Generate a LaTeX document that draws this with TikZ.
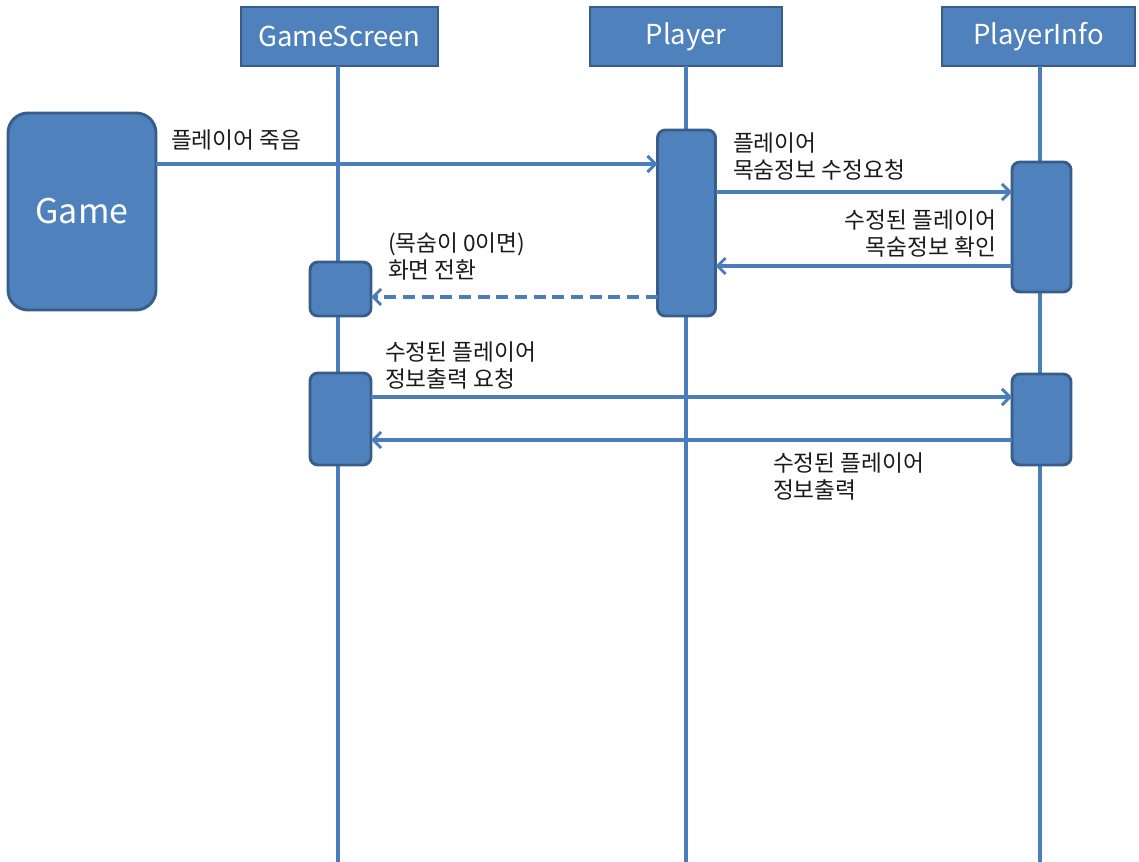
\documentclass[tikz,border=0pt]{standalone}
\usepackage{fontspec}
\newfontfamily\kr{Noto Sans CJK KR}
\usetikzlibrary{arrows.meta}
\definecolor{boxfill}{HTML}{4F81BD}
\definecolor{boxline}{HTML}{385D8A}
\definecolor{linec}{HTML}{4A7EBB}
\definecolor{txt}{HTML}{1A1A1A}
\tikzset{
  header/.style={draw=boxline, line width=2pt, fill=boxfill, inner sep=0pt, outer sep=0pt,
    minimum height=44.25pt, text=white, font=\kr\fontsize{20.6pt}{24pt}\selectfont},
  actbox/.style={draw=boxline, line width=2.2pt, fill=boxfill, rounded corners=6pt, inner sep=0pt, outer sep=0pt},
  lifeline/.style={draw=linec, line width=3pt},
  msg/.style={draw=linec, line width=2.4pt, -{Straight Barb[length=6pt, width=12pt, line width=2.2pt]}},
  lbl/.style={inner sep=0pt, outer sep=0pt, text=txt, font=\kr\fontsize{17pt}{20.25pt}\selectfont}
}
\begin{document}
\begin{tikzpicture}[x=0.75pt, y=-0.75pt]
\useasboundingbox (0,0) rectangle (1139,862);
% headers
\node[header, minimum width=147.75pt] (gs) at (339.5,36.5) {GameScreen};
\node[header, minimum width=144pt] (pl) at (686,36.5) {Player};
\node[header, minimum width=144.75pt] (pin) at (1038.5,36.5) {PlayerInfo};
% lifeline ends
\coordinate (gsend) at (338,862);
\coordinate (plend) at (686,862);
\coordinate (piend) at (1040,862);
\draw[lifeline] (gs.south -| gsend) -- (gsend);
\draw[lifeline] (pl.south -| plend) -- (plend);
\draw[lifeline] (pin.south -| piend) -- (piend);
% Game box
\node[actbox, rounded corners=15pt, minimum width=111pt, minimum height=147.75pt,
  text=white, font=\kr\fontsize{25.5pt}{30pt}\selectfont] (game) at (82,211.5) {Game};
% activations
\node[actbox, minimum width=43.5pt, minimum height=139.5pt] (pa) at (686.5,223) {};
\node[actbox, minimum width=44.25pt, minimum height=97.5pt] (pi1) at (1041.5,227) {};
\node[actbox, minimum width=45.75pt, minimum height=40.5pt] (gs1) at (340.5,289) {};
\node[actbox, minimum width=45.75pt, minimum height=69pt] (gs2) at (340.5,419) {};
\node[actbox, minimum width=44.25pt, minimum height=68.25pt] (pi2) at (1041.5,419.5) {};
% message levels
\coordinate (m1) at (0,164);
\coordinate (m2) at (0,192);
\coordinate (m3) at (0,266);
\coordinate (m4) at (0,297);
\coordinate (m5) at (0,397);
\coordinate (m6) at (0,440);
\draw[msg] (game.east |- m1) -- (pa.west |- m1);
\draw[msg] (pa.east |- m2) -- (pi1.west |- m2);
\draw[msg] (pi1.west |- m3) -- (pa.east |- m3);
\draw[msg, dashed, dash pattern=on 9pt off 5pt] (pa.west |- m4) -- (gs1.east |- m4);
\draw[msg] (gs2.east |- m5) -- (pi2.west |- m5);
\draw[msg] (pi2.west |- m6) -- (gs2.east |- m6);
% labels
\node[lbl, anchor=north west] (l1) at (171,130) {플레이어 죽음};
\node[lbl, anchor=north west, align=left] (l2) at (733,133) {플레이어\\목숨정보 수정요청};
\node[lbl, anchor=north east, align=right] (l3) at (996,210) {수정된 플레이어\\목숨정보 확인};
\node[lbl, anchor=north west, align=left] (l4) at (388,233) {(목숨이 0이면)\\화면 전환};
\node[lbl, anchor=north west, align=left] (l5) at (385,342) {수정된 플레이어\\정보출력 요청};
\node[lbl, anchor=north west, align=left] (l6) at (773,453) {수정된 플레이어\\정보출력};
\end{tikzpicture}
\end{document}
